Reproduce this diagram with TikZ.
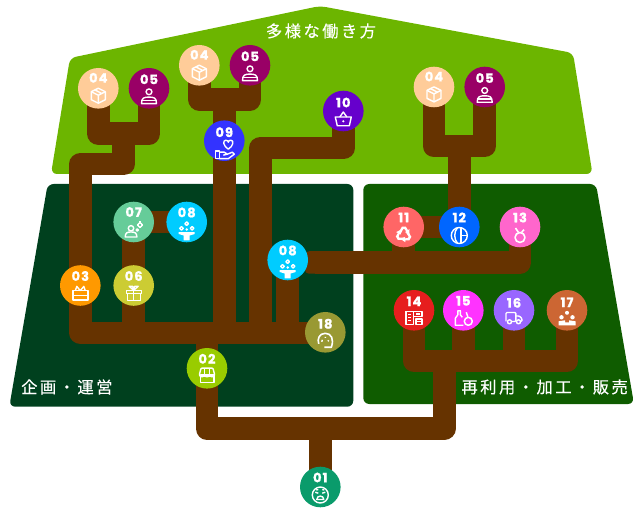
\documentclass[tikz,border=0pt]{standalone}
\usepackage{fontspec}
\newfontfamily\cjkfont[LetterSpace=15,FakeBold=0.3]{Noto Sans CJK JP}
\newfontfamily\numfont[LetterSpace=8,BoldFeatures={FakeBold=1.2}]{Poppins}
\usepackage{tikz}
\usetikzlibrary{
    backgrounds,
    calc
}
\definecolor{topgreen}{RGB}{108, 181, 0}
\definecolor{planpanel}{RGB}{0, 64, 30}
\definecolor{reusepanel}{RGB}{15, 92, 0}
\definecolor{trunk}{RGB}{102, 51, 0}
\definecolor{c01}{RGB}{10, 155, 107}
\definecolor{c02}{RGB}{153, 204, 0}
\definecolor{c03}{RGB}{255, 153, 0}
\definecolor{c04}{RGB}{255, 204, 153}
\definecolor{c05}{RGB}{153, 0, 102}
\definecolor{c06}{RGB}{204, 204, 51}
\definecolor{c07}{RGB}{102, 204, 153}
\definecolor{c08}{RGB}{0, 204, 255}
\definecolor{c09}{RGB}{51, 51, 255}
\definecolor{c10}{RGB}{102, 0, 204}
\definecolor{c11}{RGB}{255, 102, 102}
\definecolor{c12}{RGB}{0, 102, 255}
\definecolor{c13}{RGB}{255, 102, 204}
\definecolor{c14}{RGB}{230, 30, 30}
\definecolor{c15}{RGB}{255, 51, 255}
\definecolor{c16}{RGB}{153, 102, 255}
\definecolor{c17}{RGB}{204, 102, 51}
\definecolor{c18}{RGB}{153, 153, 51}
\tikzset{
    stagedot/.style={circle,minimum size=40.6pt,inner sep=0pt},
    stagenum/.style={text=white,inner sep=0pt,font=\numfont\bfseries\fontsize{13}{13}\selectfont},
    branch/.style={draw=trunk,line width=22.5pt,line join=round},
    panel/.style={rounded corners=6pt},
    panellabel/.style={text=white,inner sep=0pt,font=\cjkfont\fontsize{16.3}{16.3}\selectfont},
    ico/.style={draw=white,line width=1.4pt,line join=round,fill=none},
    % icons, drawn round the origin, y running downwards
    icobox/.pic={
        \draw[ico] (0,-7.5) -- (7,-4) -- (7,4) -- (0,7.5) -- (-7,4) -- (-7,-4) -- cycle;
        \draw[ico] (-7,-4) -- (0,-0.5) -- (7,-4) (0,-0.5) -- (0,7.5) (-3.5,-5.8) -- (3.5,-2.2);
    },
    icoperson/.pic={
        \draw[ico] (0,-4.5) circle (2.9);
        \draw[ico] (-7.5,7.3) .. controls (-7.5,1.5) and (-5,0.8) .. (0,0.8) .. controls (5,0.8) and (7.5,1.5) .. (7.5,7.3) -- cycle;
        \draw[ico] (-7.5,4) -- (7.5,4);
    },
    icocake/.pic={
        \draw[ico] (-7.5,-2.5) rectangle (7.5,7);
        \draw[ico] (-7.5,2.5) -- (7.5,2.5);
        \draw[ico] (0,-2.5) -- (-3.5,-6.8) -- (-5,-2.5) (0,-2.5) -- (3.5,-6.8) -- (5,-2.5);
    },
    icogift/.pic={
        \draw[ico] (-7.5,-3) rectangle (7.5,0.5);
        \draw[ico] (-6.5,0.5) rectangle (6.5,7.5);
        \draw[ico] (0,-3) -- (0,7.5);
        \draw[ico] (0,-3) -- (-4.5,-7) -- (-1,-7) -- cycle (0,-3) -- (4.5,-7) -- (1,-7) -- cycle;
    },
    icogears/.pic={
        \draw[ico] (-2.7,-1.7) circle (2.7);
        \draw[ico] (-8.5,7) .. controls (-8.5,2.5) and (-6,2) .. (-2.7,2) .. controls (0.6,2) and (3.2,2.5) .. (3.2,7) -- cycle;
        \draw[ico] (6.3,-5) circle (2);
        \draw[ico] (3.6,0) circle (1.2);
        \draw[ico] (6.3,-8.5) -- (6.3,-7.2) (9.5,-5) -- (8.5,-5) (3,-5) -- (4.2,-5) (6.3,-1.5) -- (6.3,-2.8);
    },
    icoflowers/.pic={
        \draw[ico] (0,-7.3) circle (1.8) (-5.2,-2.7) circle (1.8) (5.4,-2.7) circle (1.8);
        \fill[white] (0,-1.5) circle (1.3);
        \fill[white] (-8,1.2) -- (8,1.2) -- (8,3) -- (3,4.5) -- (3,9.5) -- (-3,9.5) -- (-3,4.5) -- (-8,3) -- cycle;
    },
    icohand/.pic={
        \draw[ico] (4,-1) .. controls (-1,-4) and (-2,-10) .. (1.5,-10) .. controls (3,-10) and (4,-9) .. (4,-8)
            .. controls (4,-9) and (5,-10) .. (6.5,-10) .. controls (10,-10) and (9,-4) .. (4,-1) -- cycle;
        \draw[ico] (-9,1) rectangle (-5,8.5);
        \draw[ico] (-5,2) -- (0,2) -- (3,4) -- (-1,5) (3,4) -- (8,2) -- (10,4) -- (4,8.5) -- (-5,8.5);
    },
    icobasket/.pic={
        \draw[ico] (-8,-1.8) -- (8,-1.8) -- (6,7) -- (-6,7) -- cycle;
        \draw[ico] (-3.5,-1.8) -- (0,-6.8) -- (3.5,-1.8);
        \fill[white] (0,2.5) circle (1.2);
    },
    icorecycle/.pic={
        \foreach \ang in {0,120,240} {
            \fill[white,rotate=\ang] (-5,-2.2) -- (-1.8,-7.8) -- (2.2,-7.8) -- (4.2,-4.4) -- (5.8,-5.3)
                -- (5.6,-0.4) -- (1.2,-2.4) -- (2.6,-3.2) -- (0.8,-5.4) -- (-0.6,-5.4) -- (-2.6,-1.4) -- cycle;
        }
    },
    icopie/.pic={
        \draw[ico] (0,0) circle (8);
        \draw[ico] (-1.8,-7.8) .. controls (-5.5,-4) and (-5.5,4) .. (-1.8,7.8);
        \draw[ico] (1.6,-8) -- (1.6,8) (1.6,0) -- (8,0);
    },
    icoring/.pic={
        \draw[ico,line width=1.6pt] (0,2) circle (5);
        \draw[ico,line width=1.6pt] (-1.5,-3) -- (-4.5,-7.5) (1.5,-3) -- (4,-5.8);
    },
    icodocs/.pic={
        \draw[ico] (-8,-6.5) -- (8,-6.5) -- (8,-1.5) -- (-0.5,-1.5) (-8,-6.5) -- (-8,6.5) -- (-0.5,6.5) -- (-0.5,-6.5);
        \draw[ico] (2,1) rectangle (8,6.5);
        \draw[ico] (-6,-3.5) -- (-3,-3.5) (-6,-0.5) -- (-3,-0.5) (-6,2.5) -- (-3,2.5) (2,-4) -- (6,-4) (2,3.5) -- (8,3.5);
    },
    icobottle/.pic={
        \draw[ico] (-6,-7.5) -- (-2.5,-7.5) (-5.5,-7.5) -- (-5.5,-3.5) -- (-8,0) -- (-8,7) -- (0,7) (-3,-7.5) -- (-3,-3.5) -- (-1,-1);
        \draw[ico,line width=1.5pt] (5,3) circle (4);
        \draw[ico] (3,-6) -- (4.5,-1.5);
    },
    icotruck/.pic={
        \draw[ico,rounded corners=1pt] (-8,3.5) -- (-8,-5.5) -- (1.8,-5.5) -- (1.8,3.5) -- (-1.8,3.5);
        \draw[ico,rounded corners=1pt] (1.8,-2) -- (5.5,-2) -- (8,0.8) -- (8,3.5) -- (7,3.5);
        \draw[ico] (-4.5,3.8) circle (2) (4.5,3.8) circle (2);
    },
    icopeople/.pic={
        \fill[white] (0,-5.5) circle (2) (-5.5,-1) circle (2.2) (5.5,-1) circle (2.2);
        \fill[white] (-8.5,7) -- (-8.5,3) -- (-2,2) -- (-2,4.2) -- (2,4.2) -- (2,2) -- (8.5,3) -- (8.5,7) -- cycle;
    },
    icoarch/.pic={
        \draw[ico,line width=1.6pt] (-6.5,3.5) .. controls (-8.5,-1) and (-6,-7) .. (0,-7) .. controls (6,-7) and (9,-1) .. (6,7) -- (-1,7);
        \draw[ico] (-3.5,1.5) -- (-3,-0.5) (0,-3.5) -- (0,-2.5) (3.5,1) -- (2.5,0);
    },
    icoface/.pic={
        \draw[ico] (0,0) circle (8);
        \draw[ico] (-5,-2.8) -- (-2,-1.8) (5,-2.8) -- (2,-1.8);
        \draw[ico] (-3.5,4.5) .. controls (-3.5,0) and (3.5,0) .. (3.5,4.5) -- cycle;
        \draw[ico] (-4,-5) -- (-2,-5.5) (4,-5) -- (2,-5.5);
    },
    icoshop/.pic={
        \draw[ico] (-6.8,0) rectangle (6.8,7.2);
        \draw[ico,rounded corners=1pt] (-7.8,0.5) -- (-6,-7) -- (6,-7) -- (7.8,0.5) -- (5.2,2) -- (2.6,0.5) -- (0,2) -- (-2.6,0.5) -- (-5.2,2) -- cycle;
        \draw[ico] (-2.6,-7) -- (-2.6,0.5) (2.6,-7) -- (2.6,0.5);
    }
}

\begin{document}
\begin{tikzpicture}[x=1pt,y=-1pt]
    \useasboundingbox (0,0) rectangle (640,521);

    % Stages: circle, number, icon
    \foreach \nm/\px/\py/\col/\num/\icon/\nshift/\ishift in {
        a/320.3/487/c01/01/icoface/9.5/8,
        b/207/368.3/c02/02/icoshop/9.5/6.8,
        c/80.3/285.5/c03/03/icocake/9.5/7.7,
        f/133.7/285.5/c06/06/icogift/9.5/7.8,
        g/133.7/222/c07/07/icogears/10/8,
        hl/186.7/222/c08/08/icoflowers/9.5/9,
        hm/287.7/260/c08/08/icoflowers/9.5/9,
        r/325.3/332.3/c18/18/icoarch/8.5/8,
        i/224.3/140.7/c09/09/icohand/8.5/9.5,
        dl/98.3/88.3/c04/04/icobox/10.5/7.4,
        el/149/88.3/c05/05/icoperson/9/8,
        dm/199.3/65.3/c04/04/icobox/10.5/7.4,
        em/250/65.3/c05/05/icoperson/9/8,
        j/343.3/111/c10/10/icobasket/8.5/7.8,
        dr/434/87/c04/04/icobox/10.5/7.4,
        er/484.7/87/c05/05/icoperson/9/8,
        k/403.7/227/c11/11/icorecycle/9.5/7.5,
        l/459.3/227/c12/12/icopie/9.5/8.5,
        m/520/227/c13/13/icoring/9.5/8.5,
        n/414/310.3/c14/14/icodocs/9/7.7,
        o/463.3/310.3/c15/15/icobottle/9.5/8,
        p/514/310.3/c16/16/icotruck/7.5/7.7,
        q/567/310.3/c17/17/icopeople/8/8
    } {
        \node[stagedot,fill=\col] (\nm) at (\px,\py) {};
        \node[stagenum] (\nm-num) at ($(\nm.center)+(0,-\nshift)$) {\num};
        \pic at ($(\nm.center)+(0,\ishift)$) {\icon};
    }

    % Panel titles
    \node[panellabel] (toplabel) at (321,31) {多様な働き方};
    \node[panellabel,anchor=west] (planlabel) at (21,387) {企画・運営};
    \node[panellabel,anchor=east] (reuselabel) at (628,387) {再利用・加工・販売};

    % Junctions of the tree
    \coordinate (basebar) at (444.3,428.7);
    \coordinate (rebar) at (444.3,361);
    \coordinate (planbar) at (80.7,333);
    \coordinate (leftup) at (80.7,164);
    \coordinate (leftfork) at (123.7,133.7);
    \coordinate (midfork) at (224.5,99.3);
    \coordinate (midup) at (260.3,148.2);
    \coordinate (recbar) at (305,262.5);
    \coordinate (rightfork) at (459.3,146.2);

    \begin{scope}[on background layer]
        % Panels
        \fill[topgreen,panel] (320,6) -- (573,53) -- (592.5,174) -- (51,174) -- (70,58) -- cycle;
        \fill[planpanel,panel] (47.7,184) -- (353.3,184) -- (353.3,406.7) -- (9.3,406.7) -- cycle;
        \fill[reusepanel,panel] (363.3,184) -- (596,184) -- (634,404) -- (363.3,404) -- cycle;

        % Base of the tree
        \draw[branch] (a.center) -- (a.center |- basebar);
        \draw[branch] (b.center |- planbar) -- (b.center |- basebar) -- (basebar) -- (rebar);

        % Planning side
        \draw[branch] (r.center |- planbar) -- (planbar) -- (leftup) -- (leftfork |- leftup) -- (leftfork);
        \draw[branch] (dl.center) |- (leftfork) -| (el.center);
        \draw[branch] (g.center) -- (g.center |- planbar);
        \draw[branch] (g.center) -- (hl.center);
        \draw[branch] (midfork |- planbar) -- (midfork);
        \draw[branch] (dm.center) |- (midfork) -| (em.center);
        \draw[branch] (midup |- planbar) -- (midup) -| (j.center);
        \draw[branch] (hm.center) -- (hm.center |- planbar);

        % Reuse side
        \fill[trunk,rounded corners=4pt] ($(recbar)+(0,-11.25)$) rectangle ($(recbar)+(20,11.25)$);
        \draw[branch] ($(recbar)+(10,0)$) -- (m.center |- recbar) -- (m.center);
        \draw[branch] (k.center) -- (k.center |- recbar);
        \draw[branch] (k.center) -- (l.center);
        \draw[branch] (l.center) -- (rightfork);
        \draw[branch] (dr.center) |- (rightfork) -| (er.center);
        \draw[branch] (n.center) |- (rebar) -| (q.center);
        \draw[branch] (o.center) -- (o.center |- rebar);
        \draw[branch] (p.center) -- (p.center |- rebar);
    \end{scope}
\end{tikzpicture}
\end{document}
